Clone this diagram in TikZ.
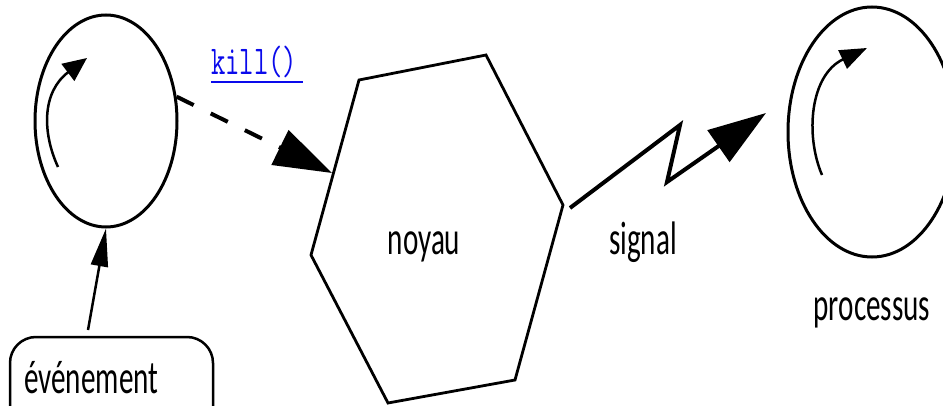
\documentclass[tikz,border=0pt]{standalone}
\usepackage{fontspec}
\usetikzlibrary{arrows.meta,shapes.geometric}
\newfontfamily\cfont{Carlito}[FakeStretch=0.62]
\newfontfamily\mfont{Latin Modern Mono}[FakeStretch=0.68]
\definecolor{linkblue}{RGB}{10,10,235}
\tikzset{
  proc/.style={draw, ellipse, line width=3pt, inner sep=0pt},
  lbl/.style={anchor=base, inner sep=0pt, font=\cfont\fontsize{47}{50}\selectfont},
  bigtip/.style={-{Triangle[length=58pt,width=38pt]}},
  loopline/.style={line width=2.5pt},
}
\begin{document}
\begin{tikzpicture}[x=1pt,y=-1pt]
\useasboundingbox (0,0) rectangle (943,406);
\clip (0,0) rectangle (943,406);
% processes
\node[proc, minimum width=142pt, minimum height=212pt] (p1) at (106,121) {};
\node[proc, minimum width=168pt, minimum height=250pt] (p2) at (872,132) {};
% inner rotation arrows
\coordinate (l1s) at (58,167);
\coordinate (l1e) at (87,58);
\draw[loopline, -{Triangle[length=24pt,width=21pt]}] (l1s) .. controls (42,132) and (42,92) .. (l1e);
\coordinate (l2s) at (822,175);
\coordinate (l2e) at (867,48);
\draw[loopline, -{Triangle[length=27pt,width=20pt]}] (l2s) .. controls (805,135) and (810,75) .. (l2e);
% kernel hexagon
\coordinate (h1) at (359,80);
\coordinate (h2) at (486,55);
\coordinate (h3) at (563,205);
\coordinate (h4) at (515,380);
\coordinate (h5) at (388,403);
\coordinate (h6) at (311,255);
\draw[line width=2.8pt, line join=miter] (h1) -- (h2) -- (h3) -- (h4) -- (h5) -- (h6) -- cycle;
\node[lbl] (noyau) at (424,255) {noyau};
% event box
\node[draw, line width=2.5pt, rounded corners=26pt, minimum width=203pt, minimum height=100pt, inner sep=0pt] (evbox) at (111.5,387) {};
\node[lbl, anchor=base west] (evt) at (24,393) {événement};
\coordinate (evtop) at (88,330);
\draw[line width=2.5pt, -{Triangle[length=38pt,width=17pt]}] (evtop) -- (p1.south);
% kill() dashed arrow
\coordinate (hk) at (332,173);
\draw[line width=4pt, dash pattern=on 19pt off 19pt, bigtip] (p1.19) -- (hk);
\node[anchor=base west, inner sep=0pt, text=linkblue, font=\mfont\fontsize{41}{43}\selectfont] (kill) at (211,75) {kill()};
\draw[linkblue, line width=2.2pt] (kill.base west) ++(0,7) -- ++(92,0);
% signal
\coordinate (sg0) at (570,208);
\coordinate (sg1) at (680,125);
\coordinate (sg2) at (667,182);
\coordinate (sg3) at (766,113);
\draw[line width=4pt, line join=miter, bigtip] (sg0) -- (sg1) -- (sg2) -- (sg3);
\node[lbl] (signal) at (643,255) {signal};
\node[lbl] (proclbl) at (872,320) {processus};
\end{tikzpicture}
\end{document}
